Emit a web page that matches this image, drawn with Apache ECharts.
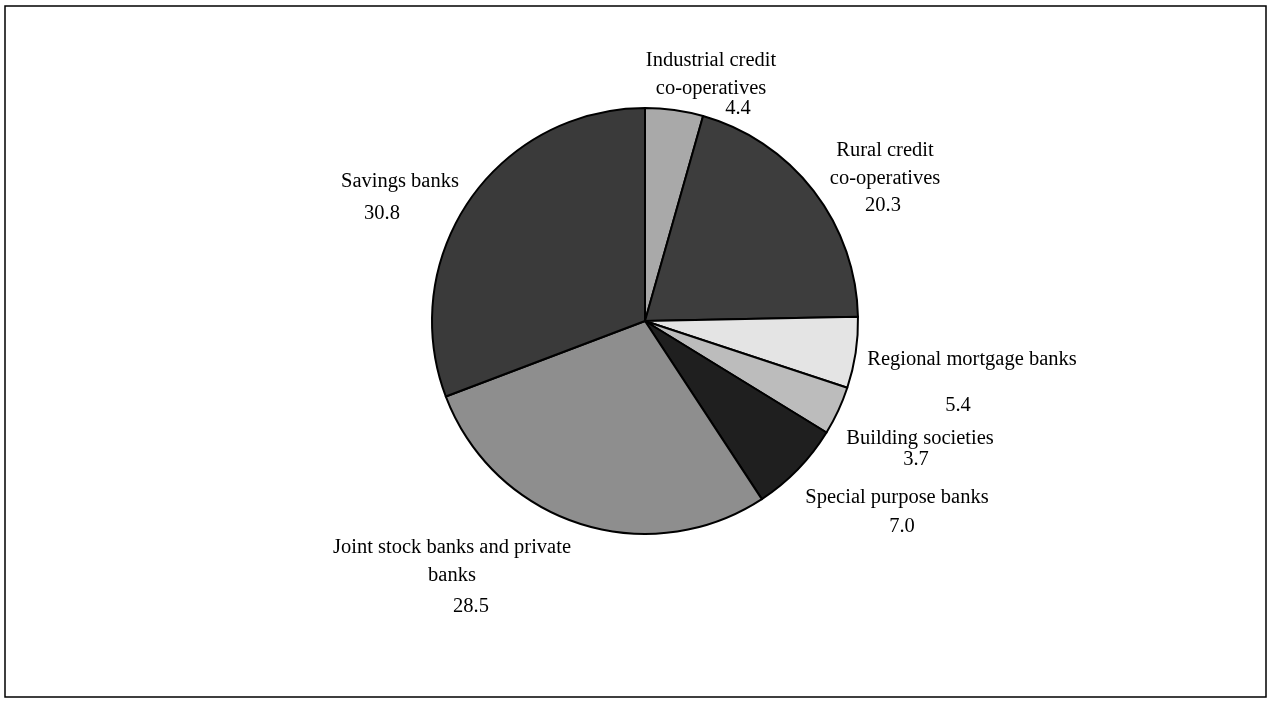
<!DOCTYPE html>
<html>
<head>
<meta charset="utf-8">
<script src="https://cdn.jsdelivr.net/npm/echarts@6/dist/echarts.min.js"></script>
<style>
  html, body { margin: 0; padding: 0; background: #fff; }
  #main { width: 1272px; height: 713px; }
</style>
</head>
<body>
<div id="main"></div>
<script>
// sectors, clockwise from 12 o'clock
var sectors = [
    'Industrial credit\nco-operatives',
    'Rural credit\nco-operatives',
    'Regional mortgage banks',
    'Building societies',
    'Special purpose banks',
    'Joint stock banks and private\nbanks',
    'Savings banks'
];
var shares = [4.4, 20.3, 5.4, 3.7, 7.0, 28.5, 30.8];

// grey tones standing in for the halftone fills
var fills = ['#a9a9a9', '#3d3d3d', '#e4e4e4', '#bcbcbc', '#1f1f1f', '#8e8e8e', '#3a3a3a'];
// label anchor (centre x, top y), gap between last name line and value, value x shift
var labelX = [711, 885, 972, 920, 897, 452, 400];
var labelY = [47, 137, 346, 425, 484, 534, 168];
var valueGap = [20, 27, 46, 21, 29, 31, 32];
var valueShift = [27, -2, -14, -4, 5, 19, -18];

var chart = echarts.init(document.getElementById('main'));

var rich = {n: {fontFamily: 'Liberation Serif', fontSize: 20.5, lineHeight: 28, color: '#000'}};
for (var i = 0; i < shares.length; i++) {
    var s = valueShift[i];
    rich['v' + i] = {
        fontFamily: 'Liberation Serif', fontSize: 20.5, color: '#000',
        lineHeight: 2 * valueGap[i] - 28,
        padding: s >= 0 ? [0, 0, 0, 2 * s] : [0, -2 * s, 0, 0]
    };
}

var option = {
    backgroundColor: '#fff',
    animation: false,
    graphic: [{
        type: 'rect',
        shape: {x: 5, y: 6, width: 1261, height: 691},
        style: {fill: 'none', stroke: '#000', lineWidth: 1.5}
    }],
    series: [{
        type: 'pie',
        center: [645, 321],
        radius: 213,
        startAngle: 90,
        clockwise: true,
        avoidLabelOverlap: false,
        itemStyle: {borderColor: '#000', borderWidth: 2},
        label: {
            show: true,
            position: 'outside',
            formatter: function (p) {
                var lines = p.name.split('\n').map(function (t) { return '{n|' + t + '}'; });
                return lines.join('\n') + '\n{v' + p.dataIndex + '|' + p.value.toFixed(1) + '}';
            },
            rich: rich
        },
        labelLine: {show: false},
        labelLayout: function (p) {
            return {x: labelX[p.dataIndex], y: labelY[p.dataIndex], align: 'center', verticalAlign: 'top'};
        },
        emphasis: {disabled: true},
        data: sectors.map(function (name, i) {
            return {name: name, value: shares[i], itemStyle: {color: fills[i]}};
        })
    }]
};
chart.setOption(option);
</script>
</body>
</html>
